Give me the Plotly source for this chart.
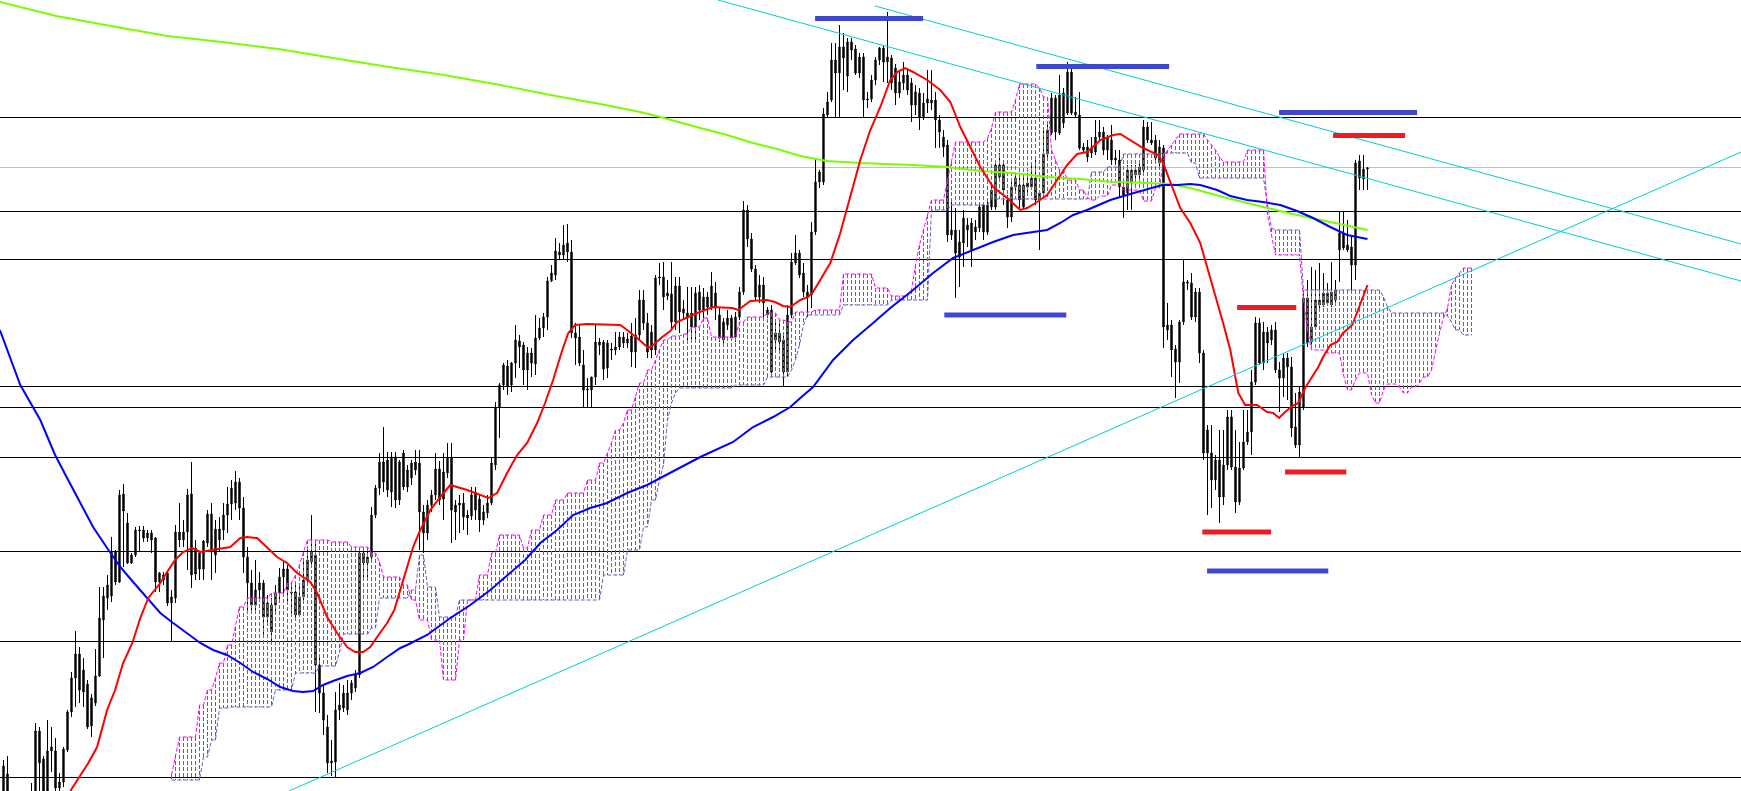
import plotly.graph_objects as go

# ---------------- candles (price in screen-row scale: smaller value = higher price) -------------
opens = [
 795,774,800,812,820,815,805,810,798,731, 759,791,751,751,788,782,750,712,678,654,
 670,684,698,703,676,620,598,596,552,582, 494,523,563,555,531,530,538,533,538,582,
 575,573,603,598,532,540,532,494,548,553, 569,543,552,529,540,530,515,504,503,482,
 508,557,583,605,590,583,617,605,605,593, 577,569,592,592,615,597,580,562,555,665,
 693,727,763,762,710,693,710,693,688,675, 553,563,557,515,488,462,460,492,457,500,
 453,487,478,462,463,512,533,505,495,469, 472,473,458,505,505,503,515,516,492,499,
 520,513,503,465,408,385,366,385,363,341, 345,370,353,364,338,328,317,281,275,252,
 255,243,252,333,337,365,390,390,377,342, 342,368,349,350,347,343,343,336,352,335,
 300,323,332,350,278,277,296,294,322,286, 313,313,313,327,292,310,297,307,293,315,
 322,325,318,337,317,292,210,239,269,297, 285,315,310,333,333,340,372,315,263,253,
 273,292,295,232,182,182,115,100,60,73, 47,76,42,49,57,57,100,99,80,60,
 48,62,58,68,93,83,75,83,105,93, 118,99,103,100,120,137,145,235,230,242,
 243,230,250,232,228,205,232,207,207,177, 165,200,217,187,185,185,183,187,178,200,
 193,154,133,98,133,123,113,72,115,115, 147,157,153,152,137,132,150,140,160,160,
 187,193,182,175,175,170,127,140,140,163, 148,330,325,349,362,322,282,283,317,292,
 353,430,453,480,460,497,465,417,467,502, 468,442,432,382,323,363,332,340,330,370,
 378,358,367,427,445,407,298,342,327,305, 305,303,305,300,250,233,245,247,265,161,
 179,169]
highs = [
 760,756,795,800,805,800,795,783,723,727, 756,720,727,738,773,747,710,672,631,647,
 658,680,694,649,587,587,575,537,550,490, 484,513,553,527,526,526,530,530,537,572,
 572,572,590,525,503,520,489,462,540,551, 540,510,503,520,517,503,487,480,471,478,
 497,547,570,560,572,580,595,598,585,568, 560,565,583,585,585,560,548,515,540,658,
 685,715,740,692,683,685,680,680,670,548, 551,551,507,485,453,427,452,452,452,460,
 450,465,460,450,450,505,500,490,453,461, 453,443,443,500,495,493,510,487,487,495,
 505,495,458,402,383,363,360,362,325,335, 342,347,348,315,318,313,277,265,238,243,
 225,224,240,323,325,350,378,378,325,338, 340,340,343,332,332,332,333,323,318,290,
 290,313,325,275,263,262,280,262,277,277, 300,287,287,287,285,288,292,272,282,307,
 318,310,315,312,287,201,205,233,265,275, 277,307,305,320,320,335,305,253,235,250,
 263,285,222,158,170,108,92,43,43,25, 33,38,38,45,53,53,92,75,57,47,
 45,12,55,64,72,62,70,78,85,88, 93,70,70,92,115,130,140,200,208,230,
 210,218,218,220,202,202,200,183,160,153, 160,195,178,173,175,178,173,163,157,190,
 130,125,93,95,75,88,62,65,97,92, 143,140,137,120,120,127,135,125,150,150,
 180,165,165,165,160,120,122,122,135,140, 145,303,320,345,320,260,280,273,288,288,
 350,425,425,455,430,430,410,410,430,442, 410,410,370,317,318,322,327,325,322,362,
 353,353,357,393,387,290,280,267,270,263, 273,283,262,280,212,212,220,235,160,155,
 155,167]
lows = [
 800,810,820,830,835,825,818,820,805,795, 800,798,772,795,795,787,752,717,707,703,
 707,729,737,706,677,658,610,602,585,583, 567,564,564,557,552,542,542,553,592,592,
 585,606,641,603,547,547,570,588,580,580, 580,547,580,573,552,540,533,520,510,520,
 573,613,613,613,600,635,625,642,615,600, 593,605,613,620,617,600,582,567,712,713,
 735,773,776,777,720,712,715,700,692,678, 580,580,560,518,495,492,497,507,508,505,
 490,492,485,475,550,553,540,512,500,505, 520,478,543,540,533,530,535,520,520,532,
 525,518,505,470,438,390,395,392,378,368, 385,390,377,375,340,337,330,282,280,260,
 260,262,338,365,366,407,407,408,385,355, 380,378,360,355,350,348,348,367,368,340,
 330,358,358,355,285,310,300,330,330,333, 320,340,342,340,320,318,315,310,320,342,
 345,330,340,342,320,295,247,272,300,303, 320,318,373,350,353,387,377,318,265,278,
 297,317,308,235,188,185,118,102,117,117, 90,92,60,75,78,117,108,102,85,65,
 82,83,90,105,98,90,95,122,115,130, 120,113,110,148,148,157,242,240,298,287,
 267,247,267,240,232,240,235,210,210,180, 205,228,222,190,210,210,195,190,205,250,
 195,157,135,140,135,128,115,115,118,150, 152,162,158,155,140,155,160,165,165,198,
 218,210,210,178,178,172,143,145,162,168, 348,340,377,398,383,325,290,320,322,363,
 460,515,508,490,523,505,470,470,513,505, 470,445,455,385,365,370,363,345,373,412,
 397,400,437,448,457,410,347,345,330,310, 307,305,307,302,282,250,252,292,280,190,
 190,190]
closes = [
 766,800,812,820,815,805,810,798,731,763, 791,751,747,788,782,749,712,678,654,690,
 692,727,726,676,618,596,585,552,582,495, 511,563,555,530,530,538,533,540,582,573,
 580,603,597,532,540,532,495,575,574,569, 541,514,514,555,529,515,504,488,482,508,
 557,583,605,590,583,617,603,632,593,577, 569,590,593,615,597,580,560,552,665,693,
 720,763,761,710,705,708,693,683,675,553, 563,557,515,488,462,482,490,457,500,462,
 487,470,463,470,512,533,505,495,469,500, 499,458,510,512,503,517,518,495,510,520,
 512,503,463,408,385,365,386,363,340,347, 370,353,363,338,328,317,281,273,251,255,
 245,252,333,338,363,390,389,377,342,345, 369,343,350,347,337,337,339,352,335,300,
 323,352,350,278,277,297,293,322,286,312, 309,318,327,293,310,297,307,286,307,338,
 340,318,338,317,292,210,239,269,297,285, 303,310,372,340,342,372,315,262,253,275,
 292,297,232,182,172,114,102,60,73,47, 58,42,50,73,73,100,99,80,60,48,
 62,57,83,93,82,75,90,105,92,118, 103,103,100,120,132,147,235,230,253,257,
 218,225,223,227,207,232,205,190,165,165, 190,217,187,178,200,207,187,178,200,193,
 154,130,98,132,95,93,72,113,112,148, 150,147,148,137,132,150,138,160,158,187,
 195,170,170,170,167,127,140,143,158,147, 327,325,350,362,322,282,283,317,292,353,
 453,453,480,460,497,465,417,467,502,468, 442,432,382,323,363,332,343,330,370,378,
 358,367,428,445,392,298,343,327,300,300, 293,293,292,290,233,248,250,265,163,178,
 169,168]

# ---------------- horizontal levels ----------------
black_levels = [117.5, 211.5, 259.5, 386.5, 407.5, 457.5, 551.5, 641.5, 777.5]
grey_levels = [167.5]

# ---------------- moving averages (bar index, price) ----------------
red_k = [16.7,19.2,21.2,23.4,25.9,27.9,29.9,32.2,34.2,36.2,37.4,39.2,40.9,42.9,44.9,47.2,49.2,52.4,56.7,59.2,
         60.9,63.4,65.9,68.4,70.9,73.4,76.7,78.4,80.9,83.4,85.9,87.9,89.9,91.7,93.4,95.9,97.7,99.9,102.4,104.2,
         106.7,109.2,111.7,115.9,118.4,121.2,123.4,125.9,128.4,130.9,133.4,135.4,137.4,139.7,141.2,142.9,145.9,154.2,155.9,158.4,
         161.2,162.4,164.7,166.7,168.4,173.4,177.4,182.2,183.7,186.7,190.9,192.9,194.9,196.7,199.2,201.2,202.4,204.9,206.7,209.2,
         211.7,214.2,216.7,219.2,221.7,223.4,225.4,227.4,230.9,234.2,236.7,239.2,241.7,244.2,247.4,250.9,254.2,255.9,258.4,260.9,
         263.4,265.9,268.4,270.9,274.2,277.4,279.2,281.7,284.9,288.7,289.9,291.7,294.2,296.7,299.2,300.4,302.4,304.9,306.7,308.7,
         310.4,313.4,315.9,317.4,318.9,320.4,322.2,323.7,325.4,327.2,328.7,329.9,331.7,333.4,334.9,337.2,338.7,341.0]
red_y = [791,775,763,747,710,690,663,643,618,598,592,583,572,560,552,548,552,550,547,538,
         537,538,548,557,563,573,582,593,617,633,647,652,652,647,637,623,610,580,547,530,
         510,497,485,490,494,498,493,473,455,443,423,403,380,350,333,325,324,325,330,338,
         348,345,337,331,322,313,307,308,310,301,300,302,306,307,300,297,292,275,263,233,
         197,160,130,107,80,72,68,72,80,90,102,127,147,167,187,198,210,208,202,195,
         180,165,154,152,140,135,134,140,148,155,163,182,208,223,243,260,287,323,350,393,
         405,405,412,413,418,412,406,403,388,377,367,357,345,342,333,325,310,285]
blue_k = [-0.9,4.2,9.2,12.9,15.9,19.2,22.4,25.9,29.2,32.4,35.9,39.2,42.4,45.9,49.2,52.4,55.9,59.2,62.4,65.9,
          69.2,72.4,74.9,77.4,79.9,82.4,85.9,89.2,92.4,95.9,99.2,100.9,105.9,111.7,116.7,121.7,126.7,130.4,134.2,138.4,
          142.4,146.7,150.9,155.9,160.9,166.7,174.2,182.4,187.4,192.4,196.7,199.2,202.4,207.4,212.4,217.4,221.7,227.4,232.4,237.4,
          242.4,247.4,252.4,257.4,260.9,264.2,267.4,270.9,274.2,276.7,281.7,286.7,289.7,293.4,296.7,299.2,303.4,306.7,310.9,314.9,
          319.2,323.4,327.4,331.7,335.9,341.0]
blue_y = [330,385,420,455,478,503,527,548,567,582,598,613,623,633,643,650,655,663,672,679,
          687,691,692,691,685,681,676,673,667,657,648,645,635,618,605,590,573,560,543,530,
          515,508,503,493,485,473,457,442,427,417,407,398,387,360,340,323,308,290,273,258,
          250,242,235,232,230,223,215,210,204,200,194,188,185,185,184,185,190,196,200,202,
          205,211,218,227,235,239]
green_k = [-0.9,13.2,26.9,40.9,54.7,68.7,82.4,96.4,110.2,124.2,136.7,149.2,159.2,164.2,174.2,180.9,187.4,193.4,199.2,205.9,
           214.2,221.7,227.4,235.9,244.2,252.4,260.9,269.2,277.4,285.9,291.7,296.7,304.9,314.9,323.4,331.7,341.0]
green_y = [2,16,26,36,42,49,58,67,75,85,95,104,112,117,128,135,143,149,156,161,
           163,164,165,167,171,173,177,179,182,183,184,188,197,207,215,222,230]

# ---------------- Ichimoku cloud spans (start bar, level) as step runs ----------------
span_a_runs = [(42,775),(43,755),(44,737),(49,705),(51,690),(53,678),(54,663),(56,645),(58,627),(59,607),
               (61,598),(67,593),(71,583),(73,575),(74,565),(75,552),(76,540),(82,542),(87,547),(92,553),
               (94,562),(95,577),(100,585),(102,600),(104,620),(107,640),(110,680),(114,640),(116,600),(119,575),
               (122,553),(124,535),(130,548),(132,530),(135,515),(138,500),(141,493),(146,480),(149,463),(151,453),
               (152,443),(153,430),(155,423),(156,410),(158,397),(159,383),(161,370),(163,360),(164,350),(165,340),
               (167,336),(170,334),(172,327),(175,318),(177,337),(184,322),(186,317),(191,313),(194,320),(196,322),
               (198,312),(203,310),(210,274),(218,288),(222,296),(227,290),(228,265),(229,245),(230,230),(231,215),
               (232,200),(236,180),(237,162),(238,142),(246,138),(247,128),(248,112),(253,100),(254,84),(259,88),
               (260,97),(262,150),(263,160),(264,170),(266,180),(269,190),(271,198),(272,200),(274,196),(277,185),
               (280,190),(285,201),(288,188),(290,160),(291,150),(292,145),(293,140),(294,134),(301,140),(302,145),
               (303,150),(304,157),(305,162),(311,150),(316,215),(317,235),(318,255),(325,300),(326,330),(327,350),
               (331,353),(335,375),(336,390),(338,380),(339,373),(342,395),(343,403),(345,390),(346,384),(349,387),
               (350,393),(352,387),(354,383),(355,377),(357,370),(358,350),(359,333),(360,318),(361,308),(362,285),
               (363,278),(364,273),(365,268)]
span_b_runs = [(42,780),(50,757),(52,740),(54,708),(57,707),(68,690),(73,673),(79,666),(84,652),(85,634),
               (92,628),(94,598),(102,590),(104,555),(106,587),(109,617),(114,600),(150,575),(156,550),(160,527),
               (162,500),(164,480),(165,465),(166,420),(167,403),(168,393),(169,388),(183,385),(191,377),(197,370),
               (198,360),(199,345),(200,325),(201,315),(210,305),(222,300),(232,210),(237,205),(247,199),(272,172),
               (276,167),(280,154),(290,153),(297,163),(299,178),(316,205),(317,228),(318,230),(325,290),(345,297),
               (346,307),(347,313),(361,316),(362,322),(363,330),(365,335)]
cloud_last_bar = 367

# ---------------- trend lines (bar index, price) ----------------
trend_lines = [((178.6, 0), (434.4, 281)),
               ((217.9, 6), (434.4, 244)),
               ((71.4, 791), (434.4, 152))]

# ---------------- marker bars (start bar, end bar, price) ----------------
blue_marks = [(202.9, 229.9, 18.5), (258.2, 291.4, 66.5), (318.9, 353.4, 112.5),
              (235.2, 265.7, 315), (300.9, 331.2, 571)]
red_marks = [(332.4, 350.4, 135.5), (308.4, 323.2, 307.5), (320.4, 335.7, 472),
             (299.7, 316.9, 532)]

MAGENTA = "#FF00FF"
SLATE = "#6A5ACD"
CYAN = "#00CED1"


def expand(runs, last):
    vals = {}
    for j, (k, v) in enumerate(runs):
        k_next = runs[j + 1][0] if j + 1 < len(runs) else last + 1
        for kk in range(k, k_next):
            vals[kk] = v
    return vals


span_a = expand(span_a_runs, cloud_last_bar)
span_b = expand(span_b_runs, cloud_last_bar)
cloud_bars = sorted(set(span_a) & set(span_b))

fig = go.Figure()

# levels
for lvl in black_levels:
    fig.add_shape(type="line", xref="paper", x0=0, x1=1, y0=lvl, y1=lvl,
                  line=dict(color="black", width=1), layer="below")
for lvl in grey_levels:
    fig.add_shape(type="line", xref="paper", x0=0, x1=1, y0=lvl, y1=lvl,
                  line=dict(color="#C0C0C0", width=1), layer="below")

# candles (axis is reversed, so "decreasing" values are rising prices -> hollow)
idx = list(range(len(opens)))
fig.add_trace(go.Candlestick(
    x=idx, open=opens, high=highs, low=lows, close=closes,
    increasing=dict(line=dict(color="black", width=1), fillcolor="black"),
    decreasing=dict(line=dict(color="black", width=1), fillcolor="white"),
    whiskerwidth=0, hoverinfo="skip", showlegend=False))

# cloud hatching
hx_m, hy_m, hx_s, hy_s = [], [], [], []
for k in cloud_bars:
    a, b = span_a[k], span_b[k]
    if a < b:
        hx_m += [k, k, None]; hy_m += [a, b, None]
    elif b < a:
        hx_s += [k, k, None]; hy_s += [b, a, None]
fig.add_trace(go.Scatter(x=hx_m, y=hy_m, mode="lines", line=dict(color=MAGENTA, width=1, dash="4px,2px"),
                         hoverinfo="skip", showlegend=False))
fig.add_trace(go.Scatter(x=hx_s, y=hy_s, mode="lines", line=dict(color=SLATE, width=1, dash="4px,2px"),
                         hoverinfo="skip", showlegend=False))
fig.add_trace(go.Scatter(x=cloud_bars, y=[span_b[k] for k in cloud_bars], mode="lines",
                         line=dict(color=SLATE, width=1, dash="4px,2px"), hoverinfo="skip", showlegend=False))
fig.add_trace(go.Scatter(x=cloud_bars, y=[span_a[k] for k in cloud_bars], mode="lines",
                         line=dict(color=MAGENTA, width=1, dash="4px,2px"), hoverinfo="skip", showlegend=False))

# moving averages
fig.add_trace(go.Scatter(x=green_k, y=green_y, mode="lines", line=dict(color="#7CFC00", width=2),
                         hoverinfo="skip", showlegend=False))
fig.add_trace(go.Scatter(x=blue_k, y=blue_y, mode="lines", line=dict(color="#0000FF", width=2),
                         hoverinfo="skip", showlegend=False))
fig.add_trace(go.Scatter(x=red_k, y=red_y, mode="lines", line=dict(color="#FF0000", width=2),
                         hoverinfo="skip", showlegend=False))

# trend lines
for (p0, p1) in trend_lines:
    fig.add_trace(go.Scatter(x=[p0[0], p1[0]], y=[p0[1], p1[1]], mode="lines",
                             line=dict(color=CYAN, width=1), hoverinfo="skip", showlegend=False))

# marker bars
for (k0, k1, y) in blue_marks:
    fig.add_trace(go.Scatter(x=[k0, k1], y=[y, y], mode="lines", line=dict(color="#3F48CC", width=5),
                             hoverinfo="skip", showlegend=False))
for (k0, k1, y) in red_marks:
    fig.add_trace(go.Scatter(x=[k0, k1], y=[y, y], mode="lines", line=dict(color="#ED1C24", width=5),
                             hoverinfo="skip", showlegend=False))

fig.update_layout(
    width=1741, height=791, autosize=False,
    margin=dict(l=0, r=0, t=0, b=0, pad=0),
    paper_bgcolor="white", plot_bgcolor="white",
    showlegend=False, boxgap=0.5,
    xaxis=dict(range=[-0.875, 434.375], visible=False, showgrid=False, zeroline=False,
               rangeslider=dict(visible=False), fixedrange=True),
    yaxis=dict(range=[791, 0], visible=False, showgrid=False, zeroline=False, fixedrange=True),
)

fig.write_html("out.html", config={"displayModeBar": False},
               post_script="document.body.style.margin='0';document.body.style.overflow='hidden';")
